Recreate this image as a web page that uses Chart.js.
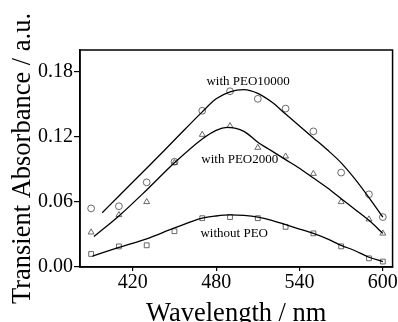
<!DOCTYPE html>
<html>
<head>
<meta charset="utf-8">
<script src="https://cdn.jsdelivr.net/npm/chart.js@4/dist/chart.umd.min.js"></script>
<style>
  html, body { margin: 0; padding: 0; background: #fff; }
  #wrap { width: 398px; height: 322px; }
</style>
</head>
<body>
<div id="wrap"><canvas id="chart" width="398" height="322"></canvas></div>
<script>
// measured points
var wavelengths = [390, 410, 430, 450, 470, 490, 510, 530, 550, 570, 590, 600];
var peo10000 = [0.054, 0.056, 0.078, 0.097, 0.144, 0.162, 0.155, 0.146, 0.125, 0.087, 0.067, 0.046];
var peo2000 = [0.032, 0.048, 0.060, 0.096, 0.122, 0.130, 0.110, 0.102, 0.086, 0.060, 0.044, 0.031];
var noPeo = [0.012, 0.019, 0.020, 0.033, 0.045, 0.046, 0.045, 0.037, 0.031, 0.019, 0.008, 0.005];

// fitted curves
var fitX10000 = [398, 410, 430, 450, 470, 480, 490, 500, 510, 520, 530, 540, 550, 560, 570, 580, 590, 600];
var fitY10000 = [0.050, 0.0655, 0.091, 0.117, 0.143, 0.155, 0.1615, 0.1635, 0.160, 0.152, 0.141, 0.130, 0.119, 0.108, 0.096, 0.081, 0.064, 0.046];
var fitX2000 = [392, 410, 430, 450, 470, 480, 488, 500, 510, 520, 530, 540, 550, 560, 570, 580, 590, 600];
var fitY2000 = [0.028, 0.047, 0.071, 0.096, 0.118, 0.126, 0.1286, 0.125, 0.115, 0.107, 0.099, 0.091, 0.082, 0.073, 0.063, 0.053, 0.043, 0.031];
var fitXno = [391, 410, 430, 450, 470, 480, 490, 500, 510, 520, 530, 540, 550, 560, 570, 580, 590, 600];
var fitYno = [0.010, 0.018, 0.026, 0.036, 0.045, 0.047, 0.048, 0.0475, 0.046, 0.043, 0.039, 0.035, 0.031, 0.026, 0.020, 0.015, 0.009, 0.005];

var xTicks = [420, 480, 540, 600];
var yTicks = [0.00, 0.06, 0.12, 0.18];

var curveLabels = ["with PEO10000", "with PEO2000", "without PEO"];
var labelX = [503, 497, 493];
var labelY = [0.171, 0.099, 0.031];

function pts(xs, ys) {
  return xs.map(function (x, i) { return { x: x, y: ys[i] }; });
}

var serif = "'Liberation Serif', 'DejaVu Serif', serif";

function markers(data, style) {
  return {
    data: pts(wavelengths, data),
    showLine: false,
    pointStyle: style,
    pointRadius: 3.4,
    pointBorderWidth: 0.8,
    pointBorderColor: "#444",
    pointBackgroundColor: "rgba(0,0,0,0)"
  };
}

function fit(xs, ys) {
  return {
    data: pts(xs, ys),
    showLine: true,
    borderColor: "#000",
    borderWidth: 1.3,
    pointRadius: 0,
    cubicInterpolationMode: "monotone",
    fill: false
  };
}

var frame = {
  id: "frame",
  afterDraw: function (chart) {
    var a = chart.chartArea, c = chart.ctx;
    c.save();
    c.strokeStyle = "#000";
    c.lineWidth = 1.5;
    c.strokeRect(a.left, a.top, a.right - a.left, a.bottom - a.top);
    c.fillStyle = "#000";
    c.font = "13px " + serif;
    c.textAlign = "center";
    c.textBaseline = "middle";
    var xs = chart.scales.x, ys = chart.scales.y;
    curveLabels.forEach(function (t, i) {
      c.fillText(t, xs.getPixelForValue(labelX[i]), ys.getPixelForValue(labelY[i]));
    });
    c.restore();
  }
};

var ctx = document.getElementById("chart").getContext("2d");
var chart = new Chart(ctx, {
  type: "scatter",
  data: {
    datasets: [
      fit(fitX10000, fitY10000),
      fit(fitX2000, fitY2000),
      fit(fitXno, fitYno),
      markers(peo10000, "circle"),
      markers(peo2000, "triangle"),
      markers(noPeo, "rect")
    ]
  },
  options: {
    responsive: false,
    animation: false,
    layout: { padding: { top: 50, right: 5, left: 0, bottom: 0 } },
    plugins: { legend: { display: false }, tooltip: { enabled: false } },
    scales: {
      x: {
        type: "linear",
        min: 382,
        max: 607,
        afterBuildTicks: function (s) { s.ticks = xTicks.map(function (v) { return { value: v }; }); },
        afterFit: function (s) { s.height = 55; },
        border: { color: "#000", width: 1.5 },
        grid: { drawOnChartArea: false, color: "#000", tickLength: 4, lineWidth: 1.2 },
        ticks: { color: "#000", font: { family: serif, size: 20 }, padding: 0, maxRotation: 0 },
        title: {
          display: true,
          text: "Wavelength / nm",
          color: "#000",
          font: { family: serif, size: 26.5, lineHeight: 0.6 },
          padding: 0
        }
      },
      y: {
        min: 0,
        max: 0.2,
        afterBuildTicks: function (s) { s.ticks = yTicks.map(function (v) { return { value: v }; }); },
        afterFit: function (s) { s.width = 80; },
        border: { color: "#000", width: 1.5 },
        grid: { drawOnChartArea: false, color: "#000", tickLength: 6, lineWidth: 1.2 },
        ticks: {
          color: "#000",
          font: { family: serif, size: 20 },
          padding: 1,
          callback: function (v) { return v.toFixed(2); }
        },
        title: {
          display: true,
          text: "Transient Absorbance / a.u.",
          color: "#000",
          font: { family: serif, size: 26.5 },
          padding: { top: 7, bottom: 0 }
        }
      }
    }
  },
  plugins: [frame]
});
</script>
</body>
</html>
